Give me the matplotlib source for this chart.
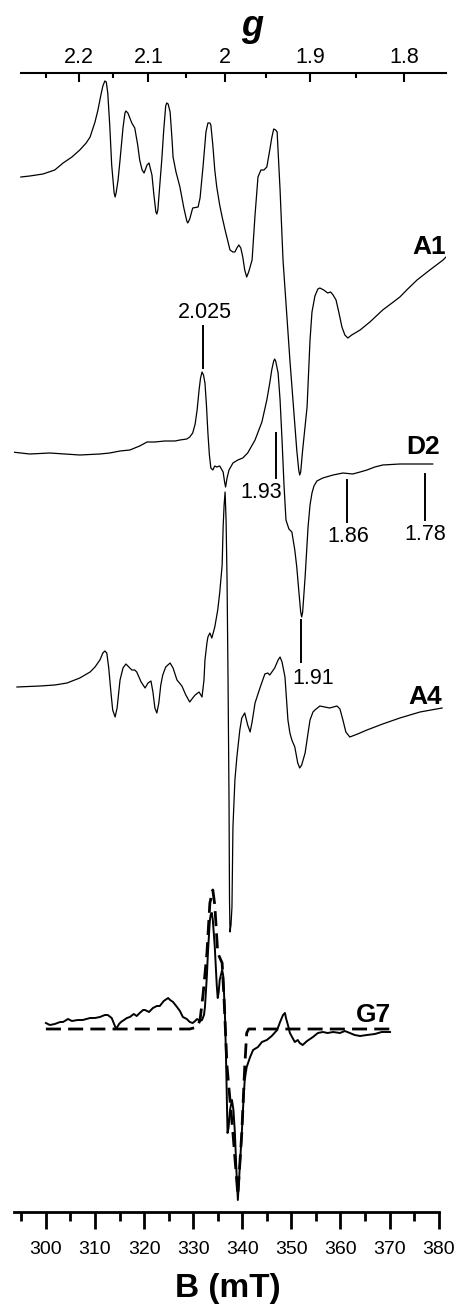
import numpy as np
import matplotlib
matplotlib.use("Agg")
import matplotlib.pyplot as plt
from matplotlib.ticker import MultipleLocator, FixedLocator

plt.rcParams['font.family'] = ['Liberation Sans', 'DejaVu Sans']

# magnetic field (mT) and first-derivative intensity (a.u., relative to each trace baseline)
a1_B = [294.9, 296.7, 299.4, 301.8, 303.5, 305.3, 306.9, 308.2, 309.0, 310.0, 310.6, 311.2,
        311.6, 312.0, 312.3, 312.6, 313.0, 313.4, 313.9, 314.1, 314.3, 314.7, 315.1, 315.7,
        316.1, 316.3, 316.7, 317.5, 318.1, 318.7, 319.1, 319.6, 320.0, 320.6, 321.0, 321.6,
        322.0, 322.4, 322.6, 322.8, 323.2, 323.6, 324.0, 324.4, 324.6, 324.9, 325.3, 325.7,
        325.9, 326.5, 327.3, 328.1, 328.7, 328.9, 329.3, 329.9, 331.0, 331.4, 332.0, 332.6,
        333.0, 333.4, 333.6, 334.0, 334.4, 334.8, 335.4, 335.9, 336.5, 337.5, 338.1, 338.5,
        338.9, 339.3, 339.7, 340.1, 340.5, 340.9, 341.3, 342.0, 342.6, 343.2, 343.8, 344.4,
        345.0, 345.6, 346.0, 346.4, 346.8, 347.1, 347.7, 348.3, 349.7, 351.1, 351.5, 351.7,
        351.9, 352.3, 353.2, 353.8, 354.2, 354.8, 355.4, 355.8, 356.6, 357.4, 358.0, 358.5,
        359.1, 359.7, 360.3, 360.9, 361.5, 362.3, 364.0, 366.0, 368.6, 370.5, 372.1, 373.7,
        375.6, 378.2, 380.9, 381.5]
a1_I = [0, 1, 3, 7, 14, 20, 27, 34, 40, 55, 67, 82,
        91, 96, 95, 84, 52, 12, -16, -20, -16, -3, 17, 49,
        64, 66, 64, 54, 49, 32, 17, 7, 4, 12, 14, 2,
        -18, -35, -37, -33, -8, 17, 47, 71, 74, 73, 65, 37,
        20, 5, -10, -31, -44, -46, -42, -31, -30, -21, 10, 45,
        54, 54, 52, 32, 7, -10, -28, -40, -53, -73, -75, -75,
        -71, -68, -71, -80, -93, -100, -95, -83, -38, 0, 7, 7,
        10, 27, 39, 48, 47, 45, -13, -83, -183, -273, -293, -298,
        -295, -273, -230, -163, -135, -119, -112, -111, -113, -116, -115, -118,
        -123, -136, -150, -158, -161, -158, -153, -145, -133, -126, -120, -112,
        -103, -93, -83, -80]

d2_B = [293.1, 296.7, 300.8, 306.9, 311.0, 313.0, 315.1, 317.1, 319.1, 320.6, 322.2, 324.2,
        326.3, 327.3, 328.7, 329.3, 329.9, 330.4, 330.8, 331.2, 331.5, 331.8, 332.1, 332.4,
        332.7, 333.0, 333.3, 333.6, 334.0, 334.4, 334.8, 335.4, 336.1, 336.4, 336.6, 336.9,
        337.3, 338.1, 339.1, 340.1, 341.1, 342.6, 344.0, 345.0, 345.6, 346.0, 346.4, 346.6,
        346.8, 347.3, 347.7, 348.1, 348.5, 348.9, 349.5, 350.1, 350.7, 351.1, 351.5, 351.9,
        352.1, 352.3, 352.8, 353.4, 353.8, 354.2, 354.6, 355.2, 356.4, 358.5, 360.5, 362.5,
        364.0, 365.4, 367.0, 368.6, 372.1, 378.8]
d2_I = [0, -2, -1, -3, -2, -1, 1, 2, 6, 10, 10, 11,
        11, 12, 13, 15, 19, 28, 42, 62, 74, 80, 77, 69,
        47, 19, -3, -16, -18, -14, -15, -14, -20, -30, -35, -26,
        -18, -11, -8, -6, -1, 12, 30, 52, 69, 82, 91, 93,
        91, 79, 52, 12, -33, -68, -77, -80, -98, -115, -138, -160,
        -165, -160, -125, -75, -53, -41, -34, -29, -26, -23, -21, -22,
        -20, -18, -15, -13, -12, -12]

a4_B = [294.1, 298.8, 301.8, 304.3, 306.9, 309.0, 310.0, 311.0, 311.6, 312.0, 312.4, 312.8,
        313.2, 313.6, 314.1, 314.5, 315.1, 315.7, 316.3, 316.9, 317.5, 318.1, 318.5, 319.4,
        320.2, 320.8, 321.4, 321.8, 322.2, 322.6, 323.0, 323.4, 323.8, 324.4, 325.3, 325.9,
        326.7, 327.7, 328.5, 329.3, 329.9, 330.4, 331.2, 331.8, 332.2, 332.4, 332.8, 333.0,
        333.4, 333.8, 334.4, 335.0, 335.4, 335.9, 336.1, 336.3, 336.5, 336.7, 336.9, 337.1,
        337.3, 337.4, 337.5, 337.7, 337.9, 338.1, 338.5, 338.9, 339.5, 339.9, 340.5, 341.1,
        341.6, 342.0, 342.6, 343.6, 344.6, 345.2, 345.6, 346.6, 347.3, 347.7, 348.1, 348.7,
        349.3, 349.7, 350.1, 350.7, 351.3, 351.7, 352.1, 352.8, 353.4, 353.8, 354.4, 354.8,
        355.8, 356.8, 357.8, 359.3, 359.9, 360.5, 361.1, 361.9, 363.5, 365.4, 368.6, 372.1,
        376.2, 380.7]
a4_I = [0, 1, 2, 4, 9, 15, 20, 27, 34, 36, 34, 19,
        -3, -23, -30, -21, 7, 19, 23, 20, 17, 17, 15, 5,
        -1, 4, 6, -5, -21, -26, -16, 2, 12, 20, 24, 19,
        7, 1, -8, -15, -11, -8, -5, -10, 7, 27, 44, 50,
        54, 49, 60, 77, 94, 122, 160, 182, 195, 167, 107, 7,
        -113, -213, -245, -238, -220, -140, -93, -70, -43, -31, -26, -38,
        -45, -35, -16, -1, 13, 14, 12, 19, 27, 30, 25, 10,
        -33, -46, -53, -60, -76, -81, -78, -66, -46, -33, -25, -23,
        -19, -20, -21, -19, -22, -33, -45, -50, -47, -43, -37, -31,
        -25, -21]

g7_B = [300.0, 300.8, 301.8, 302.9, 303.5, 304.5, 305.3, 306.5, 307.5, 309.0, 310.0, 311.0,
        312.0, 312.6, 313.4, 314.3, 314.9, 315.3, 316.5, 317.1, 317.9, 318.5, 319.1, 319.8,
        320.2, 321.0, 321.8, 322.6, 323.2, 324.0, 324.9, 325.3, 325.9, 326.7, 327.3, 327.9,
        328.7, 329.3, 329.9, 330.4, 330.8, 331.4, 331.8, 332.2, 332.4, 332.8, 333.0, 333.4,
        333.6, 333.8, 334.0, 334.4, 334.8, 335.0, 335.2, 335.4, 335.9, 336.1, 336.3, 336.5,
        336.7, 336.9, 337.0, 337.2, 337.5, 337.9, 338.2, 338.5, 338.8, 339.1, 339.4, 339.9,
        340.3, 340.5, 340.9, 341.6, 342.2, 343.2, 344.0, 345.0, 346.0, 347.1, 347.7, 348.3,
        348.7, 348.9, 349.3, 349.7, 350.7, 351.3, 351.7, 352.3, 353.2, 354.4, 355.4, 356.4,
        357.4, 358.5, 359.9, 360.9, 361.9, 362.9, 364.0, 365.4, 367.0, 368.4, 370.1]
g7_I = [6, 4, 5, 7, 7, 10, 8, 9, 9, 11, 11, 12,
        14, 14, 11, 0, 5, 7, 11, 12, 15, 13, 16, 19,
        19, 17, 21, 23, 23, 28, 31, 29, 27, 22, 18, 12,
        10, 7, 6, 8, 10, 8, 9, 14, 22, 54, 76, 109,
        115, 116, 109, 82, 44, 31, 37, 49, 59, 54, 34, 9,
        -31, -81, -104, -99, -81, -71, -81, -104, -141, -171, -146, -104,
        -66, -51, -38, -28, -21, -18, -13, -11, -7, -1, 7, 14,
        16, 11, 4, -4, -13, -11, -14, -16, -12, -8, -4, -3,
        -4, -3, -4, -2, -4, -6, -7, -6, -5, -3, -3]

# simulated G7 spectrum (dashed)
g7_fit_B = [300.0, 329.3, 330.8, 331.4, 332.0, 332.8, 333.4, 334.0, 334.4, 335.0, 335.9, 336.3,
            336.9, 338.1, 339.1, 339.9, 340.5, 340.9, 341.3, 370.1]
g7_fit_I = [0, 0, 2, 9, 34, 76, 126, 139, 124, 76, 66, 29,
            -38, -104, -166, -104, -38, -4, 0, 0]

trace_names = ['A1', 'D2', 'A4', 'G7']
trace_offsets = [1035, 760, 525, 183]
label_B = [378.0, 376.8, 377.2, 366.8]
label_y = [965, 765, 515, 197]

# g-value markers: field position, line span, label position
marker_text = ['2.025', '1.93', '1.86', '1.78', '1.91']
marker_B = [331.9, 346.8, 361.3, 377.2, 352.0]
marker_y0 = [844, 734, 690, 692, 550]
marker_y1 = [886, 779, 732, 738, 592]
marker_text_B = [332.4, 343.8, 361.5, 377.2, 354.4]
marker_text_y = [899, 720, 676, 677, 534]

# top g-axis calibration (B = g_a / g + g_b)
g_a, g_b = 656.5, 8.25
g_major = [2.2, 2.1, 2.0, 1.9, 1.8]
g_labels = ['2.2', '2.1', '2', '1.9', '1.8']
g_minor = [2.25, 2.15, 2.05, 1.95, 1.85]

fig = plt.figure(figsize=(4.61, 13.10), dpi=100)
ax = fig.add_axes([14 / 461, 98 / 1310, 432 / 461, 1139 / 1310])
ax.set_xlim(293.5, 381.5)
ax.set_ylim(0, 1139)

spectra = [(a1_B, a1_I), (d2_B, d2_I), (a4_B, a4_I)]
for (B, I), off in zip(spectra, trace_offsets[:3]):
    ax.plot(B, np.array(I) + off, color='black', lw=0.9)
ax.plot(g7_B, np.array(g7_I) + trace_offsets[3], color='black', lw=1.4)
ax.plot(g7_fit_B, np.array(g7_fit_I) + trace_offsets[3], color='black', lw=2.0,
        ls=(0, (5.4, 2.6)))

for name, xb, yb in zip(trace_names, label_B, label_y):
    ax.text(xb, yb, name, fontsize=19, fontweight='bold', ha='center', va='center')

for txt, xb, y0, y1, tx, ty in zip(marker_text, marker_B, marker_y0, marker_y1,
                                   marker_text_B, marker_text_y):
    ax.plot([xb, xb], [y0, y1], color='black', lw=1.4)
    ax.text(tx, ty, txt, fontsize=15.5, ha='center', va='center')

for s in ['left', 'right', 'top']:
    ax.spines[s].set_visible(False)
ax.spines['bottom'].set_bounds(293.5, 380)
ax.spines['bottom'].set_linewidth(2)
ax.set_yticks([])
ax.set_xticks(range(300, 381, 10))
ax.xaxis.set_minor_locator(MultipleLocator(5))
ax.tick_params(axis='x', which='major', direction='out', length=12, width=2,
               labelsize=14, pad=9)
ax.tick_params(axis='x', which='minor', direction='out', length=6.5, width=2)
ax.set_xlabel('B (mT)', fontsize=24, fontweight='bold')
ax.xaxis.set_label_coords((228 - 14) / 432, (1212 - 1288) / 1139)
ax.xaxis.label.set_va('center')

ax2 = ax.twiny()
ax2.set_xlim(ax.get_xlim())
ax2.set_xticks([g_a / g + g_b for g in g_major])
ax2.set_xticklabels(g_labels)
ax2.xaxis.set_minor_locator(FixedLocator([g_a / g + g_b for g in g_minor]))
ax2.tick_params(axis='x', which='major', direction='in', length=6.5, width=1.5,
                labelsize=15.5, pad=3.5)
ax2.tick_params(axis='x', which='minor', direction='in', length=3.5, width=1.5)
for s in ['left', 'right', 'bottom']:
    ax2.spines[s].set_visible(False)
ax2.spines['top'].set_bounds(294.9, 381.5)
ax2.spines['top'].set_linewidth(1.5)

fig.text(252 / 461, 1 - 27 / 1310, 'g', fontsize=26, fontweight='bold', style='italic',
         ha='center', va='center')

fig.savefig('out.png', dpi=100)
